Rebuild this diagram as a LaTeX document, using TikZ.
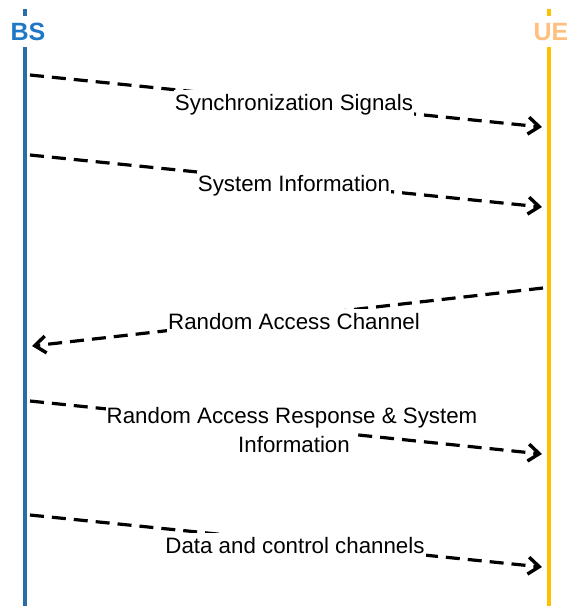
\documentclass[tikz,border=0pt]{standalone}
\usepackage{fontspec}
\setmainfont{Liberation Sans}
\usetikzlibrary{arrows.meta}
\definecolor{bsline}{HTML}{2A6EA6}
\definecolor{bstext}{HTML}{1F78C6}
\definecolor{ueline}{HTML}{FFC000}
\definecolor{uetext}{HTML}{FFC07F}
\tikzset{
  msg/.style={line width=3.2pt, dash pattern=on 14pt off 8pt, -{Straight Barb[length=11pt,width=17pt,line width=3.4pt]}},
  lbl/.style={fill=white, inner xsep=1pt, inner ysep=4.5pt, text height=16pt, text depth=5pt, font=\fontsize{22.3}{27}\selectfont},
  actor/.style={font=\bfseries\fontsize{25}{25}\selectfont, inner sep=0pt}
}
\begin{document}
\begin{tikzpicture}[x=1pt,y=-1pt]
\useasboundingbox (0,0) rectangle (567,606);
% lifelines
\node[actor, text=bstext] (bs) at (28,32) {BS};
\node[actor, text=uetext] (ue) at (551,32) {UE};
\coordinate (bstop) at (25,9);
\coordinate (bsbot) at (25,606);
\coordinate (uetop) at (549,9);
\coordinate (uebot) at (549,606);
\draw[bsline, line width=4.5pt] (bstop) -- (25,16) (25,47) -- (bsbot);
\draw[ueline, line width=4.5pt] (uetop) -- (549,16) (549,47) -- (uebot);
% message ends
\coordinate (a1) at (30,75);  \coordinate (b1) at (542,127);
\coordinate (a2) at (30,155); \coordinate (b2) at (542,207);
\coordinate (a3) at (543,288); \coordinate (b3) at (32,346);
\coordinate (a4) at (30,401); \coordinate (b4) at (542,454);
\coordinate (a5) at (30,515); \coordinate (b5) at (542,567);
\draw[msg] (a1) -- (b1);
\draw[msg] (a2) -- (b2);
\draw[msg] (a3) -- (b3);
\draw[msg] (a4) -- (b4);
\draw[msg] (a5) -- (b5);
% labels
\node[lbl] (l1) at (294,105) {Synchronization Signals};
\node[lbl] (l2) at (294,186) {System Information};
\node[lbl] (l3) at (294,324) {Random Access Channel};
\node[lbl] (l4a) at (292,418) {Random Access Response \& System};
\node[lbl] (l4b) at (294,447) {Information};
\node[lbl] (l5) at (295,548) {Data and control channels};
\end{tikzpicture}
\end{document}
